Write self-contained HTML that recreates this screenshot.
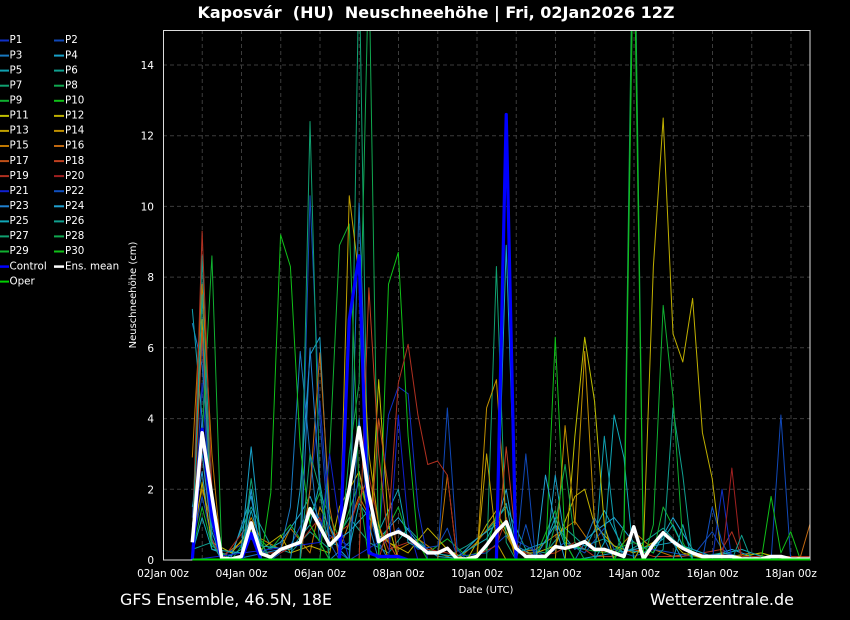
<!DOCTYPE html>
<html><head><meta charset="utf-8"><style>
html,body{margin:0;padding:0;background:#000;}
svg{display:block;}
.d polyline{vector-effect:non-scaling-stroke;fill:none;stroke-linejoin:round;stroke-width:1;}
text{font-family:"DejaVu Sans","Liberation Sans",sans-serif;fill:#fff;}
.lg text{font-size:10.3px;}
.lg line{stroke-width:2;}
.pre{white-space:pre;}
</style></head><body>
<svg width="850" height="620" viewBox="0 0 850 620" xmlns="http://www.w3.org/2000/svg">
<rect x="0" y="0" width="850" height="620" fill="#000"/>
<defs><clipPath id="c"><rect x="163" y="30" width="647" height="530"/></clipPath></defs>

<!-- grid -->
<g stroke="#3c3c3c" stroke-width="1" stroke-dasharray="4,3">
<line x1="202.25" y1="30" x2="202.25" y2="560"/><line x1="241.5" y1="30" x2="241.5" y2="560"/><line x1="280.75" y1="30" x2="280.75" y2="560"/><line x1="320" y1="30" x2="320" y2="560"/><line x1="359.25" y1="30" x2="359.25" y2="560"/><line x1="398.5" y1="30" x2="398.5" y2="560"/><line x1="437.75" y1="30" x2="437.75" y2="560"/><line x1="477" y1="30" x2="477" y2="560"/><line x1="516.25" y1="30" x2="516.25" y2="560"/><line x1="555.5" y1="30" x2="555.5" y2="560"/><line x1="594.75" y1="30" x2="594.75" y2="560"/><line x1="634" y1="30" x2="634" y2="560"/><line x1="673.25" y1="30" x2="673.25" y2="560"/><line x1="712.5" y1="30" x2="712.5" y2="560"/><line x1="751.75" y1="30" x2="751.75" y2="560"/><line x1="791" y1="30" x2="791" y2="560"/>
<line x1="163" y1="489.3" x2="810" y2="489.3"/><line x1="163" y1="418.6" x2="810" y2="418.6"/><line x1="163" y1="347.8" x2="810" y2="347.8"/><line x1="163" y1="277.1" x2="810" y2="277.1"/><line x1="163" y1="206.4" x2="810" y2="206.4"/><line x1="163" y1="135.7" x2="810" y2="135.7"/><line x1="163" y1="65" x2="810" y2="65"/>
</g>

<g clip-path="url(#c)">
<g class="d" transform="translate(192.3,560) scale(9.81,-35.36)">
<!-- clutter -->
<polyline stroke="#10a090" points="0,0.3 2,0.5 4,0.2 6,1.5 8,0.4 10,0.2 12,0.8 14,0.3 16,1.2 18,0.5 20,0.2 22,0.9 24,0.3 26,0.1 28,0.4 30,0.8 32,1.5 34,0.3 36,0.2 38,0.9 40,0.4 42,0.6 44,0.2 46,0.5 48,0.9 50,0.3 52,0.1 54,0.2 56,0.1 58,0 60,0.1 63,0"/>
<polyline stroke="#c07800" points="0,0.8 1,2 3,0.1 5,0.5 6,1.2 7,0.6 9,0.3 10,0.9 12,0.2 13,1.5 15,0.3 17,1.8 19,0.7 21,0.3 23,0.6 25,0.2 27,0 29,0.5 31,1.2 33,0.2 35,0.3 37,0.7 39,1.1 41,0.3 43,0.2 45,0.8 47,0.3 49,0.1 51,0.2 53,0.1 55,0.1 57,0.2 59,0.05 61,0.1 63,0.1"/>
<polyline stroke="#20a0d0" points="0,1 1,2.5 2,0.3 4,0.1 6,1.8 7,0.2 9,0.5 11,1.3 12,1.8 14,0.4 16,0.8 18,1.4 19,0.6 21,1.2 23,0.5 25,0.1 27,0.05 29,0.6 31,1.0 32,2.0 33,0.4 35,0.1 37,1.0 39,0.3 41,0.8 43,1.2 45,0.5 47,0.2 49,1.2 51,0.3 53,0.1 55,0.3 57,0.1 59,0 63,0"/>
<polyline stroke="#10b030" points="0,0.2 1,1.5 2,0.4 4,0 6,0.8 8,0.3 10,1.0 11,0.6 13,1.9 15,0.6 17,2.2 19,0.4 21,1.5 22,0.6 24,0.2 26,0.6 28,0.1 30,0.3 31,1.3 33,0.3 35,0.1 37,1.4 38,0.5 40,0.3 42,0.2 44,0.4 45,0.5 47,0.2 48,1.5 50,0.4 52,0.1 56,0.1 58,0.2 60,0 63,0"/>
<polyline stroke="#1048b8" points="0,0.4 1,1.8 2,0.6 3,0.1 6,0.6 8,0 10,0.4 12,1.5 14,0.7 16,0.4 17,2.5 19,0.3 21,0.9 23,0.3 25,0.4 26,0.9 27,0.1 30,0.2 32,0.7 34,0.4 36,0.1 38,0.5 40,0.2 42,0.9 43,0.3 45,0.1 47,0.3 49,0.2 51,0.1 53,0.8 54,0.3 56,0 63,0"/>
<polyline stroke="#c0b000" points="0,0.3 1,2.2 2,0.5 4,0.2 6,0.9 7,0.3 9,0.7 10,0.2 12,0.4 14,0.2 15,1.5 17,2.5 18,1.2 20,0.5 22,0.2 24,0.9 26,0.3 28,0 30,1.0 31,1.4 33,0.2 35,0.2 37,0.4 39,1.8 40,2.0 41,1.0 43,0.4 45,0.2 47,0.5 48,0.8 50,0.2 52,0.05 54,0.1 56,0.1 58,0.2 60,0.05 63,0.05"/>
<polyline stroke="#b03020" points="0,0.1 1,3 2,0.6 3,0 6,1.1 7,0.2 9,0.2 11,0.5 13,1.2 14,0.6 16,1.0 18,2.4 19,1 20,0.3 22,0.5 24,0.3 26,0.2 28,0 31,0.4 32,1.2 33,0.3 35,0.1 37,0.2 39,0.5 41,0.1 43,0.1 45,0.3 47,0.1 50,0.1 54,0.3 55,0.8 56,0.1 60,0.1 63,0.1"/>
<polyline stroke="#10a8b8" points="0,0.2 1,1.2 2,0.3 5,0.2 6,1.4 7,0.4 10,0.3 12,1 13,2.2 14,0.5 16,0.3 17,1.6 19,0.8 21,2 22,0.5 24,0.2 27,0.1 30,0.6 32,1.6 33,0.2 36,0.5 37,1.2 38,0.4 40,0.3 42,1.4 44,0.3 46,0.2 48,0.6 49,1.0 50,0.4 53,0.1 56,0.3 58,0.1 60,0 63,0"/>
<!-- members -->
<polyline stroke="#1030c8" points="0,0.3 1,5 2,1 3,0 11,0 12,2 13,4.5 14,1 15,0.2 16,0 19,0.5 20,4.1 21,4.9 22,4.7 23,1.5 24,0 53,0 54,2.0 55,0 63,0"/>
<polyline stroke="#1048b8" points="0,1.2 1,6.2 2,0.5 3,0 11,0 12,10.3 13,4 14,0.5 15,0 25,0 26,4.3 27,0.3 28,0 33,0 34,3.0 35,0 59,0 60,4.1 61,0 63,0"/>
<polyline stroke="#1878c0" points="0,6.7 1,5.5 2,2 3,0.2 4,0 9,0.3 10,1.5 11,5.9 12,3 13,0.5 14,0 16,0.5 17,10.1 18,2 19,0.5 20,0 39,0 40,0.5 41,1.2 42,0.6 43,0 63,0"/>
<polyline stroke="#18a0c8" points="0,1.5 1,3 2,0.8 3,0 5,0.3 6,3.2 7,0.5 8,0 10,0 11,2 12,5.8 13,6.3 14,1 15,0.3 16,0 31,0 32,8.9 33,0.5 34,0 36,0 37,2.4 38,0.5 39,0 49,0.5 50,0 63,0"/>
<polyline stroke="#10a0b0" points="0,7.1 1,4 2,0.5 3,0 41,0 42,3.5 43,1 44,0 63,0"/>
<polyline stroke="#10a090" points="0,0.5 1,8.6 2,1 3,0 47,0 48,0.3 49,4.3 50,2.4 51,0 63,0"/>
<polyline stroke="#10a070" points="0,0 11,0 12,12.4 13,2 14,0 16,0 17,17 18,0.3 19,0 30,0 31,8.3 32,0.5 33,0 63,0"/>
<polyline stroke="#10a850" points="0,0 15,0 16,3 17,5 18,17 19,0 43,0 44,1 45,20 46,0 63,0"/>
<polyline stroke="#10b030" points="0,0 1,3.5 2,8.6 3,0.2 4,0 13,0 14,3 15,8.9 16,9.5 17,2 18,0 63,0"/>
<polyline stroke="#10c018" points="0,0 7,0 8,1.9 9,9.2 10,8.3 11,3.2 12,1 13,0.5 14,0 19,0 20,7.8 21,8.7 22,3.5 23,0.5 24,0 36,0 37,6.3 38,0.5 39,0 58,0 59,1.8 60,0.2 61,0.8 62,0 63,0"/>
<polyline stroke="#c0c000" points="0,0 18,0 19,5.1 20,1 21,0 38,0 39,3.5 40,6.3 41,4.5 42,1 43,0 63,0"/>
<polyline stroke="#c0b000" points="0,0 45,0 46,0.5 47,8.3 48,12.5 49,6.4 50,5.6 51,7.4 52,3.6 53,2.3 54,0 63,0"/>
<polyline stroke="#c0a000" points="0,0.5 1,6.8 2,1 3,0 15,0 16,10.3 17,8 18,3 19,1 20,0 29,0 30,3 31,0.5 32,0 63,0"/>
<polyline stroke="#c09000" points="0,0 29,0 30,4.3 31,5.1 32,1 33,0 37,0 38,3.8 39,1 40,5.9 41,1 42,0 63,0"/>
<polyline stroke="#c07800" points="0,2.9 1,7.8 2,3 3,0 25,0 26,2.4 27,0 63,0"/>
<polyline stroke="#c06810" points="0,0 11,0 12,2 13,5.85 14,1.5 15,0 61,0 62,0.1 63,1.05"/>
<polyline stroke="#c05018" points="0,0.3 1,6.5 2,1.5 3,0 18,0 19,4 20,2 21,0 63,0"/>
<polyline stroke="#c04020" points="0,0 17,0 18,7.7 19,3 20,0.5 21,0 31,0 32,3.2 33,0.5 34,0 63,0"/>
<polyline stroke="#b03020" points="0,0.5 1,9.3 2,2 3,0 19,0 20,1 21,5 22,6.1 23,4.1 24,2.7 25,2.8 26,2.4 27,0 63,0"/>
<polyline stroke="#a02020" points="0,0 54,0 55,2.6 56,0 63,0"/>
<polyline stroke="#1020d0" points="0,0 13,0.5 14,3 15,1 16,0 20,0 21,4.1 22,1 23,0 63,0"/>
<polyline stroke="#1050c0" points="0,0 5,0 6,2 7,0 33,0 34,1 35,0 52,0 53,1.5 54,0.5 55,0 63,0"/>
<polyline stroke="#2080d0" points="0,0.5 1,4 2,1 3,0 11,0 12,6 13,2 14,0 16,0 17,4 18,1 19,0 63,0"/>
<polyline stroke="#20a0d0" points="0,0 5,0 6,2 7,0 35,0 36,2.4 37,1 38,0 63,0"/>
<polyline stroke="#10a8b8" points="0,0 41,0 42,0.5 43,4.1 44,2.9 45,0 49,0 50,1 51,0 63,0"/>
<polyline stroke="#10a090" points="0,0.5 1,7.5 2,0.5 3,0 55,0 56,0.7 57,0 63,0"/>
<polyline stroke="#10a070" points="0,0 5,0 6,2.3 7,0.5 8,0 11,0 12,3 13,2 14,0 63,0"/>
<polyline stroke="#10a850" points="0,0 36,0 37,1 38,2.7 39,0.5 40,0 63,0"/>
<polyline stroke="#10b030" points="0,0 46,0 47,1 48,7.2 49,4.6 50,0.5 51,0 63,0"/>
<polyline stroke="#10c018" points="0,0 43,0 44,0.5 45,18 46,0 63,0"/>
<!-- control -->
<polyline stroke="#0000ff" style="stroke-width:3.2" points="0,0 1,3.7 2,1.2 3,0 5,0 6,0.75 7,0 15,0 16,6.8 17,8.6 18,0.2 19,0.1 21,0.1 22,0 31,0 32,12.6 33,0 63,0"/>
<!-- ens mean -->
<polyline stroke="#ffffff" style="stroke-width:3.5" points="0,0.5 1,3.6 2,1.8 3,0.05 4,0.03 5,0.1 6,1.05 7,0.18 8,0.08 9,0.3 10,0.4 11,0.5 12,1.45 13,0.94 14,0.42 15,0.7 16,2.0 17,3.75 18,1.85 19,0.52 20,0.7 21,0.8 22,0.65 23,0.42 24,0.2 25,0.2 26,0.33 27,0.03 28,0.03 29,0.1 30,0.42 31,0.8 32,1.08 33,0.33 34,0.1 35,0.1 36,0.1 37,0.38 38,0.33 39,0.4 40,0.52 41,0.3 42,0.3 43,0.2 44,0.1 45,0.94 46,0.03 47,0.45 48,0.77 49,0.52 50,0.33 51,0.2 52,0.1 53,0.1 54,0.1 55,0.1 56,0.03 57,0.03 58,0.03 59,0.1 60,0.1 61,0.03 62,0.03 63,0.03"/>
</g>
</g>

<!-- frame -->
<rect x="163.5" y="30.5" width="646.5" height="529.5" fill="none" stroke="#dcdcdc" stroke-width="1"/>
<!-- oper -->
<line x1="192.3" y1="559.5" x2="810" y2="559.5" stroke="#00d000" stroke-width="2"/>

<!-- title -->
<text class="pre" xml:space="preserve" x="436" y="18" font-size="16" font-weight="bold" text-anchor="middle" textLength="477" lengthAdjust="spacingAndGlyphs">Kaposvár  (HU)  Neuschneehöhe | Fri, 02Jan2026 12Z</text>

<!-- y ticks -->
<g font-size="10.5" text-anchor="end">
<text x="154" y="564">0</text><text x="154" y="493.3">2</text><text x="154" y="422.6">4</text><text x="154" y="351.8">6</text><text x="154" y="281.1">8</text><text x="154" y="210.4">10</text><text x="154" y="139.7">12</text><text x="154" y="69">14</text>
</g>
<text transform="translate(136,295) rotate(-90)" font-size="10" text-anchor="middle">Neuschneehöhe (cm)</text>

<!-- x ticks -->
<g font-size="10.5" text-anchor="middle">
<text x="163" y="577">02Jan 00z</text><text x="241.5" y="577">04Jan 00z</text><text x="320" y="577">06Jan 00z</text><text x="398.5" y="577">08Jan 00z</text><text x="477" y="577">10Jan 00z</text><text x="555.5" y="577">12Jan 00z</text><text x="634" y="577">14Jan 00z</text><text x="712.5" y="577">16Jan 00z</text><text x="791" y="577">18Jan 00z</text>
</g>
<text x="486" y="593" font-size="10" text-anchor="middle">Date (UTC)</text>

<text x="120" y="605" font-size="16" textLength="212" lengthAdjust="spacingAndGlyphs">GFS Ensemble, 46.5N, 18E</text>
<text x="650" y="605" font-size="16" textLength="144" lengthAdjust="spacingAndGlyphs">Wetterzentrale.de</text>

<!-- legend -->
<g class="lg">
<line x1="0" y1="40.5" x2="9" y2="40.5" stroke="#1030c8"/><text x="9.5" y="43.2">P1</text>
<line x1="54" y1="40.5" x2="64" y2="40.5" stroke="#1048b8"/><text x="65" y="43.2">P2</text>
<line x1="0" y1="55.6" x2="9" y2="55.6" stroke="#1878c0"/><text x="9.5" y="58.3">P3</text>
<line x1="54" y1="55.6" x2="64" y2="55.6" stroke="#18a0c8"/><text x="65" y="58.3">P4</text>
<line x1="0" y1="70.6" x2="9" y2="70.6" stroke="#10a0b0"/><text x="9.5" y="73.3">P5</text>
<line x1="54" y1="70.6" x2="64" y2="70.6" stroke="#10a090"/><text x="65" y="73.3">P6</text>
<line x1="0" y1="85.7" x2="9" y2="85.7" stroke="#10a070"/><text x="9.5" y="88.4">P7</text>
<line x1="54" y1="85.7" x2="64" y2="85.7" stroke="#10a850"/><text x="65" y="88.4">P8</text>
<line x1="0" y1="100.8" x2="9" y2="100.8" stroke="#10b030"/><text x="9.5" y="103.5">P9</text>
<line x1="54" y1="100.8" x2="64" y2="100.8" stroke="#10c018"/><text x="65" y="103.5">P10</text>
<line x1="0" y1="115.9" x2="9" y2="115.9" stroke="#c0c000"/><text x="9.5" y="118.6">P11</text>
<line x1="54" y1="115.9" x2="64" y2="115.9" stroke="#c0b000"/><text x="65" y="118.6">P12</text>
<line x1="0" y1="130.9" x2="9" y2="130.9" stroke="#c0a000"/><text x="9.5" y="133.6">P13</text>
<line x1="54" y1="130.9" x2="64" y2="130.9" stroke="#c09000"/><text x="65" y="133.6">P14</text>
<line x1="0" y1="146" x2="9" y2="146" stroke="#c07800"/><text x="9.5" y="148.7">P15</text>
<line x1="54" y1="146" x2="64" y2="146" stroke="#c06810"/><text x="65" y="148.7">P16</text>
<line x1="0" y1="161.1" x2="9" y2="161.1" stroke="#c05018"/><text x="9.5" y="163.8">P17</text>
<line x1="54" y1="161.1" x2="64" y2="161.1" stroke="#c04020"/><text x="65" y="163.8">P18</text>
<line x1="0" y1="176.1" x2="9" y2="176.1" stroke="#b03020"/><text x="9.5" y="178.8">P19</text>
<line x1="54" y1="176.1" x2="64" y2="176.1" stroke="#a02020"/><text x="65" y="178.8">P20</text>
<line x1="0" y1="191.2" x2="9" y2="191.2" stroke="#1020d0"/><text x="9.5" y="193.9">P21</text>
<line x1="54" y1="191.2" x2="64" y2="191.2" stroke="#1050c0"/><text x="65" y="193.9">P22</text>
<line x1="0" y1="206.3" x2="9" y2="206.3" stroke="#2080d0"/><text x="9.5" y="209">P23</text>
<line x1="54" y1="206.3" x2="64" y2="206.3" stroke="#20a0d0"/><text x="65" y="209">P24</text>
<line x1="0" y1="221.4" x2="9" y2="221.4" stroke="#10a8b8"/><text x="9.5" y="224.1">P25</text>
<line x1="54" y1="221.4" x2="64" y2="221.4" stroke="#10a090"/><text x="65" y="224.1">P26</text>
<line x1="0" y1="236.4" x2="9" y2="236.4" stroke="#10a070"/><text x="9.5" y="239.1">P27</text>
<line x1="54" y1="236.4" x2="64" y2="236.4" stroke="#10a850"/><text x="65" y="239.1">P28</text>
<line x1="0" y1="251.5" x2="9" y2="251.5" stroke="#10b030"/><text x="9.5" y="254.2">P29</text>
<line x1="54" y1="251.5" x2="64" y2="251.5" stroke="#10c018"/><text x="65" y="254.2">P30</text>
<line x1="0" y1="266.6" x2="9" y2="266.6" stroke="#0000ff" style="stroke-width:2.5"/><text x="9.5" y="269.3">Control</text>
<line x1="54" y1="266.6" x2="64" y2="266.6" stroke="#ffffff" style="stroke-width:2.5"/><text x="65" y="269.3">Ens. mean</text>
<line x1="0" y1="281.6" x2="9" y2="281.6" stroke="#00d000"/><text x="9.5" y="284.3">Oper</text>
</g>
</svg>
</body></html>
